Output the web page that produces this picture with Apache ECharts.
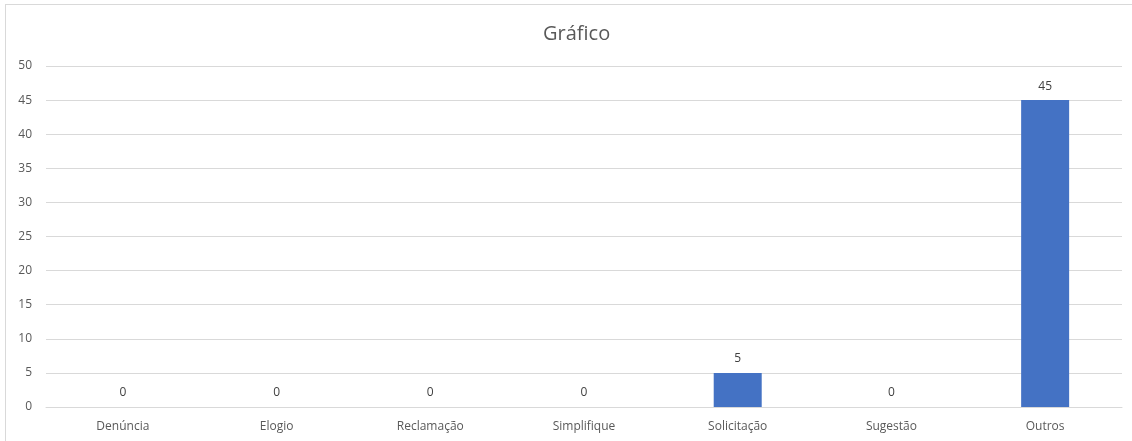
<!DOCTYPE html>
<html>
<head>
<meta charset="utf-8">
<script src="https://cdn.jsdelivr.net/npm/echarts@6/dist/echarts.min.js"></script>
<style>
  html, body { margin: 0; padding: 0; background: #fff; }
  #frame { position: absolute; left: 5px; top: 4px; width: 1140px; height: 450px; border: 1px solid #d9d9d9; box-sizing: border-box; }
  #grafico { position: absolute; left: 0; top: 0; width: 1132px; height: 441px; }
</style>
</head>
<body>
<div id="frame"></div>
<div id="grafico"></div>
<script>
const categorias = ['Denúncia', 'Elogio', 'Reclamação', 'Simplifique', 'Solicitação', 'Sugestão', 'Outros'];
const valores = [0, 0, 0, 0, 5, 0, 45];

const fonte = '"Open Sans", "Noto Sans", sans-serif';
let myChart = echarts.init(document.getElementById('grafico'));
myChart.setOption({
  animation: false,
  title: {
    text: 'Gráfico',
    left: 538,
    top: 19,
    textStyle: { color: '#595959', fontSize: 20, fontWeight: 'normal', fontFamily: fonte }
  },
  grid: { left: 46, right: 10, top: 66, bottom: 34, containLabel: false },
  xAxis: {
    type: 'category',
    data: categorias,
    axisLine: { lineStyle: { color: '#d9d9d9' } },
    axisTick: { show: false },
    axisLabel: { color: '#595959', fontSize: 12, fontFamily: fonte, margin: 14 }
  },
  yAxis: {
    type: 'value',
    min: 0,
    max: 50,
    interval: 5,
    axisLine: { show: false },
    axisTick: { show: false },
    axisLabel: { color: '#595959', fontSize: 12, fontFamily: fonte, margin: 14 },
    splitLine: { lineStyle: { color: '#d9d9d9' } }
  },
  series: [{
    type: 'bar',
    data: valores,
    barWidth: 48,
    itemStyle: { color: '#4472C4' },
    label: { show: true, position: 'top', distance: 8, color: '#404040', fontSize: 12, fontFamily: fonte }
  }]
});
</script>
</body>
</html>
